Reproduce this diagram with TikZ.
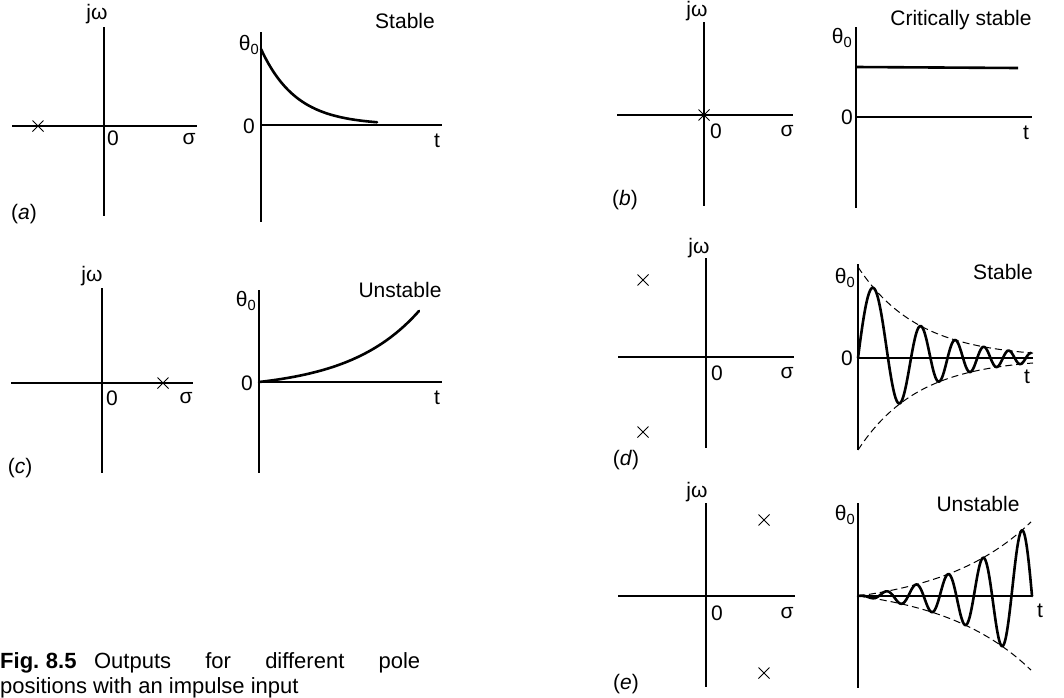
\documentclass[tikz,border=0pt]{standalone}
\usepackage{fontspec}
\setmainfont{Liberation Sans}
\usetikzlibrary{shapes.misc}
\newcommand\lblfont{\fontsize{21}{25}\selectfont}
\newcommand\capfont{\fontsize{22}{25}\selectfont}
\newcommand\thz{θ\textsubscript{0}}
\begin{document}
\begin{tikzpicture}[x=1pt,y=-1pt,
  ax/.style={line width=1.1pt},
  resp/.style={line width=2.6pt, line cap=round, line join=round},
  env/.style={line width=1pt, dash pattern=on 7pt off 4pt},
  lbl/.style={inner sep=0pt, font=\lblfont},
  pole/.style={draw, cross out, minimum size=10pt, inner sep=0pt, line width=1pt}]
\fill[white] (0,0) rectangle (1064,697);
\useasboundingbox (0,0) rectangle (1064,697);

% ---------------- (a) ----------------
\coordinate (aL) at (12,126);  \coordinate (aR) at (197,126);
\coordinate (aT) at (104,27);  \coordinate (aB) at (104,216);
\draw[ax] (aL) -- (aR); \draw[ax] (aT) -- (aB);
\node[pole] (apole) at (38,126) {};
\node[lbl] (ajw) at (97,14) {jω};
\node[lbl] (a0) at (113,138) {0};
\node[lbl] (asig) at (189,139) {σ};
\node[lbl] (alab) at (24,214) {(\textit{a})};
\coordinate (atT) at (261,32);  \coordinate (atB) at (261,222);
\coordinate (atL) at (261,125); \coordinate (atR) at (442,125);
\draw[ax] (atT) -- (atB); \draw[ax] (atL) -- (atR);
\draw[resp] plot[domain=0:116, samples=80] ({261+\x},{125-76*exp(-\x/35)});
\node[lbl] (ath) at (249,45) {\thz};
\node[lbl] (at0) at (249,126) {0};
\node[lbl] (att) at (437,141) {t};
\node[lbl] (astab) at (405,21) {Stable};

% ---------------- (c) ----------------
\coordinate (cL) at (11,383);  \coordinate (cR) at (193,383);
\coordinate (cT) at (102,288); \coordinate (cB) at (102,473);
\draw[ax] (cL) -- (cR); \draw[ax] (cT) -- (cB);
\node[pole] (cpole) at (163,383) {};
\node[lbl] (cjw) at (92,276) {jω};
\node[lbl] (c0) at (112,398) {0};
\node[lbl] (csig) at (186,398) {σ};
\node[lbl] (clab) at (20,468) {(\textit{c})};
\coordinate (ctT) at (259,290); \coordinate (ctB) at (259,473);
\coordinate (ctL) at (259,382); \coordinate (ctR) at (442,382);
\draw[ax] (ctT) -- (ctB); \draw[ax] (ctL) -- (ctR);
\draw[resp] plot[domain=0:160, samples=80] ({259+\x},{382-8.05*(exp(\x/70)-1)});
\node[lbl] (cth) at (246,301) {\thz};
\node[lbl] (ct0) at (247,383) {0};
\node[lbl] (ctt) at (437,398) {t};
\node[lbl] (cunst) at (400,290) {Unstable};

% ---------------- (b) ----------------
\coordinate (bL) at (617,115); \coordinate (bR) at (793,115);
\coordinate (bT) at (704,22);  \coordinate (bB) at (704,206);
\draw[ax] (bL) -- (bR); \draw[ax] (bT) -- (bB);
\node[pole] (bpole) at (704,115) {};
\node[lbl] (bjw) at (697,11) {jω};
\node[lbl] (b0) at (716,131) {0};
\node[lbl] (bsig) at (787,131) {σ};
\node[lbl] (blab) at (625,200) {(\textit{b})};
\coordinate (btT) at (856,27);  \coordinate (btB) at (856,208);
\coordinate (btL) at (856,117); \coordinate (btR) at (1032,117);
\draw[ax] (btT) -- (btB); \draw[ax] (btL) -- (btR);
\coordinate (bc1) at (856,67); \coordinate (bc2) at (1018,68);
\draw[resp, line cap=butt] (bc1) -- (bc2);
\node[lbl] (bth) at (842,38) {\thz};
\node[lbl] (bt0) at (847,117) {0};
\node[lbl] (btt) at (1026,133) {t};
\node[lbl] (bcrit) at (961,20) {Critically stable};

% ---------------- (d) ----------------
\coordinate (dL) at (618,357); \coordinate (dR) at (794,357);
\coordinate (dT) at (706,258); \coordinate (dB) at (706,448);
\draw[ax] (dL) -- (dR); \draw[ax] (dT) -- (dB);
\node[pole] (dp1) at (643,280) {};
\node[pole] (dp2) at (643,432) {};
\node[lbl] (djw) at (699,248) {jω};
\node[lbl] (d0) at (717,373) {0};
\node[lbl] (dsig) at (787,373) {σ};
\node[lbl] (dlab) at (626,460) {(\textit{d})};
\coordinate (dtT) at (858,264); \coordinate (dtB) at (858,450);
\coordinate (dtL) at (858,358); \coordinate (dtR) at (1033,358);
\draw[ax] (dtT) -- (dtB); \draw[ax] (dtL) -- (dtR);
\draw[env] plot[domain=0:175, samples=60] ({858+\x},{358-91*exp(-\x/60)});
\draw[env] plot[domain=0:175, samples=60] ({858+\x},{358+92*exp(-\x/60)});
\draw[resp] plot[domain=0:173, samples=260]
  ({858+\x},{358-91*exp(-\x/60)*sin(4.973*\x+0.03426*\x*\x)});
\node[lbl] (dth) at (845,278) {\thz};
\node[lbl] (dt0) at (847,358) {0};
\node[lbl] (dtt) at (1027,377) {t};
\node[lbl] (dstab) at (1003,272) {Stable};

% ---------------- (e) ----------------
\coordinate (eL) at (618,596); \coordinate (eR) at (795,596);
\coordinate (eT) at (706,503); \coordinate (eB) at (706,687);
\draw[ax] (eL) -- (eR); \draw[ax] (eT) -- (eB);
\node[pole] (ep1) at (764,520) {};
\node[pole] (ep2) at (764,673) {};
\node[lbl] (ejw) at (697,492) {jω};
\node[lbl] (e0) at (717,613) {0};
\node[lbl] (esig) at (787,613) {σ};
\node[lbl] (elab) at (626,684) {(\textit{e})};
\coordinate (etT) at (858,503); \coordinate (etB) at (858,688);
\coordinate (etL) at (858,596); \coordinate (etR) at (1032,596);
\draw[ax] (etT) -- (etB); \draw[ax] (etL) -- (etR);
\draw[env] plot[domain=0:173, samples=60] ({858+\x},{596-12.7*(exp(\x/90)-1)});
\draw[env] plot[domain=0:173, samples=60] ({858+\x},{596+12.7*(exp(\x/90)-1)});
\draw[resp] plot[domain=0:174, samples=260]
  ({858+\x},{596-12.7*(exp(\x/90)-1)*sin(-269.8+13.232*\x-0.013625*\x*\x)});
\node[lbl] (eth) at (845,515) {\thz};
\node[lbl] (ett) at (1040,611) {t};
\node[lbl] (eunst) at (978,504) {Unstable};

% ---------------- caption ----------------
\node[anchor=base west, inner sep=0pt, font=\capfont] (cap1) at (0,668)
  {\makebox[420pt][s]{\textbf{Fig.\hspace{0.3em}8.5}\hspace{0.8em}Outputs for different pole}};
\node[anchor=base west, inner sep=0pt, font=\capfont] (cap2) at (0,693)
  {positions with an impulse input};
\end{tikzpicture}
\end{document}
